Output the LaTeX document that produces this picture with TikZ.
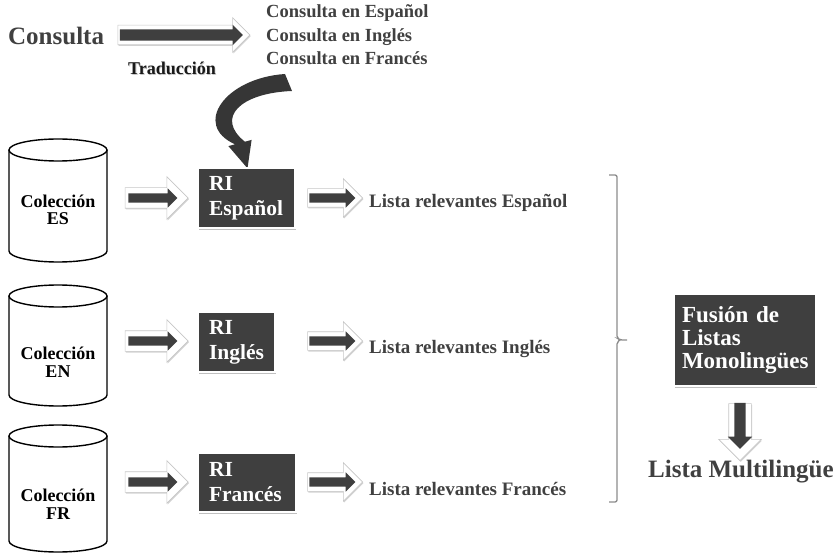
\documentclass[tikz,border=0pt]{standalone}
\usepackage{fontspec}
\setmainfont{Liberation Serif}
\usetikzlibrary{shapes.arrows,shadows}
\definecolor{ink}{HTML}{404040}
\definecolor{boxgray}{HTML}{3F3F3F}
\definecolor{curvegray}{HTML}{363636}
\definecolor{bracegray}{HTML}{8C8C8C}
\tikzset{
  fnt/.style 2 args={font=\bfseries\fontsize{#1}{#2}\selectfont},
  txt/.style={anchor=base west, inner sep=0pt},
  % block arrow: length, shaft width, head width
  fatarrow/.style n args={3}{single arrow, minimum height=#1,
    inner sep={(#2)/2},
    single arrow head extend={(#3-#2)/2}, single arrow head indent=0pt,
    outer sep=0pt},
  outerarrow/.style={fill=white, draw=black!22, line width=0.6pt,
    drop shadow={shadow xshift=0.8pt, shadow yshift=-1.2pt, fill=black!35, opacity=0.5}},
  innerarrow/.style={fill=boxgray, draw=none},
  darkbox/.style={fill=boxgray, draw=white, line width=2.5pt, text=white, align=left,
    inner ysep=0pt, drop shadow={shadow xshift=0.8pt, shadow yshift=-1.6pt, fill=black!45, opacity=0.55}},
  cylline/.style={draw=black, line width=1.4pt},
  cyllabel/.style={fnt={18}{17.5}, align=center, inner sep=0pt},
  bracepath/.style={draw=bracegray, line width=1.3pt, rounded corners=2pt},
}
\begin{document}
\begin{tikzpicture}[x=1pt, y=1pt]
\useasboundingbox (0,0) rectangle (838,555);

% query and its translations
\node[txt, fnt={25}{25}, text=ink] (consulta) at (8,510) {Consulta};
\node[fatarrow={132pt}{19pt}{34pt}, outerarrow] (qarrowbg) at (179,520) {};
\node[fatarrow={123pt}{11pt}{20pt}, innerarrow] (qarrow) at (178.5,520) {};
\node[txt, fnt={18.5}{18.5}, text=ink] (qes) at (266,537) {Consulta en Español};
\node[txt, fnt={18.5}{18.5}, text=ink] (qen) at (266,513) {Consulta en Inglés};
\node[txt, fnt={18.5}{18.5}, text=ink] (qfr) at (266,490) {Consulta en Francés};
\node[txt, fnt={18}{18}, text=black!22] (tradshadow) at (128.8,479) {Traducción};
\node[txt, fnt={18}{18}, text=black!90] (trad) at (128,480) {Traducción};

% curved arrow feeding the translated query into the Spanish IR system
\fill[curvegray] (285,481) .. controls (225,477) and (192,430) .. (235,410.7)
  -- (228.4,408.9) -- (247.5,386.7) -- (251.6,415.1) -- (244.9,413.3)
  .. controls (215,437) and (240,462) .. (292,464) -- cycle;

% collections (cylinders)
\draw[cylline] (9,405) -- (9,304) arc[start angle=180, end angle=360, x radius=49pt, y radius=11pt] -- (107,405);
\draw[cylline] (58,405) ellipse[x radius=49pt, y radius=11pt];
\node[cyllabel] (colES) at (58,345) {Colección\\ES};

\draw[cylline] (9,259) -- (9,160) arc[start angle=180, end angle=360, x radius=49pt, y radius=11pt] -- (107,259);
\draw[cylline] (58,259) ellipse[x radius=49pt, y radius=11pt];
\node[cyllabel] (colEN) at (58,193) {Colección\\EN};

\draw[cylline] (9,119) -- (9,14) arc[start angle=180, end angle=360, x radius=49pt, y radius=11pt] -- (107,119);
\draw[cylline] (58,119) ellipse[x radius=49pt, y radius=11pt];
\node[cyllabel] (colFR) at (58,51) {Colección\\FR};

% collection -> IR and IR -> list arrows
\foreach \yy/\nm in {357/es, 214/en, 73/fr}{
  \node[fatarrow={63pt}{20pt}{42pt}, outerarrow] (inbg\nm) at (151.5,\yy) {};
  \node[fatarrow={49pt}{9pt}{19pt}, innerarrow] (in\nm) at (150.5,\yy) {};
  \node[fatarrow={55pt}{18pt}{38pt}, outerarrow] (outbg\nm) at (330.5,\yy) {};
  \node[fatarrow={46pt}{9pt}{19pt}, innerarrow] (out\nm) at (330,\yy) {};
}

% IR systems
\node[darkbox, fnt={21.5}{25}, inner xsep=11pt, text width=75pt, minimum height=60pt] (ries) at (246.5,357) {RI\\Español};
\node[darkbox, fnt={21.5}{25}, inner xsep=11pt, text width=55pt, minimum height=60pt] (rien) at (236.5,213) {RI\\Inglés};
\node[darkbox, fnt={21.5}{25}, inner xsep=11pt, text width=76pt, minimum height=59pt] (rifr) at (247,72.5) {RI\\Francés};

% monolingual result lists
\node[txt, fnt={19}{19}, text=ink] (lses) at (369,347) {Lista relevantes Español};
\node[txt, fnt={19}{19}, text=ink] (lsen) at (369,202) {Lista relevantes Inglés};
\node[txt, fnt={19}{19}, text=ink] (lsfr) at (369,60) {Lista relevantes Francés};

% brace grouping the three lists
\coordinate (btop) at (609,380);
\coordinate (bmid) at (627,215);
\coordinate (bbot) at (609,53);
\draw[bracepath] (btop) -- (617,380) -- (617,217) -- (620,215) -- (bmid);
\draw[bracepath] (620,215) -- (617,213) -- (617,53) -- (bbot);

% fusion and final list
\node[darkbox, fnt={23}{23}, inner xsep=8pt, text width=126pt, minimum height=92pt] (fusion) at (745,215) {Fusión de\\Listas\\Monolingües};
\node[fatarrow={57pt}{22pt}{42pt}, outerarrow, shape border rotate=270] (downbg) at (740,128.5) {};
\node[fatarrow={46pt}{11pt}{24pt}, innerarrow, shape border rotate=270] (down) at (740,132) {};
\node[txt, fnt={25}{25}, text=ink] (multi) at (648,78) {Lista Multilingüe};
\end{tikzpicture}
\end{document}
